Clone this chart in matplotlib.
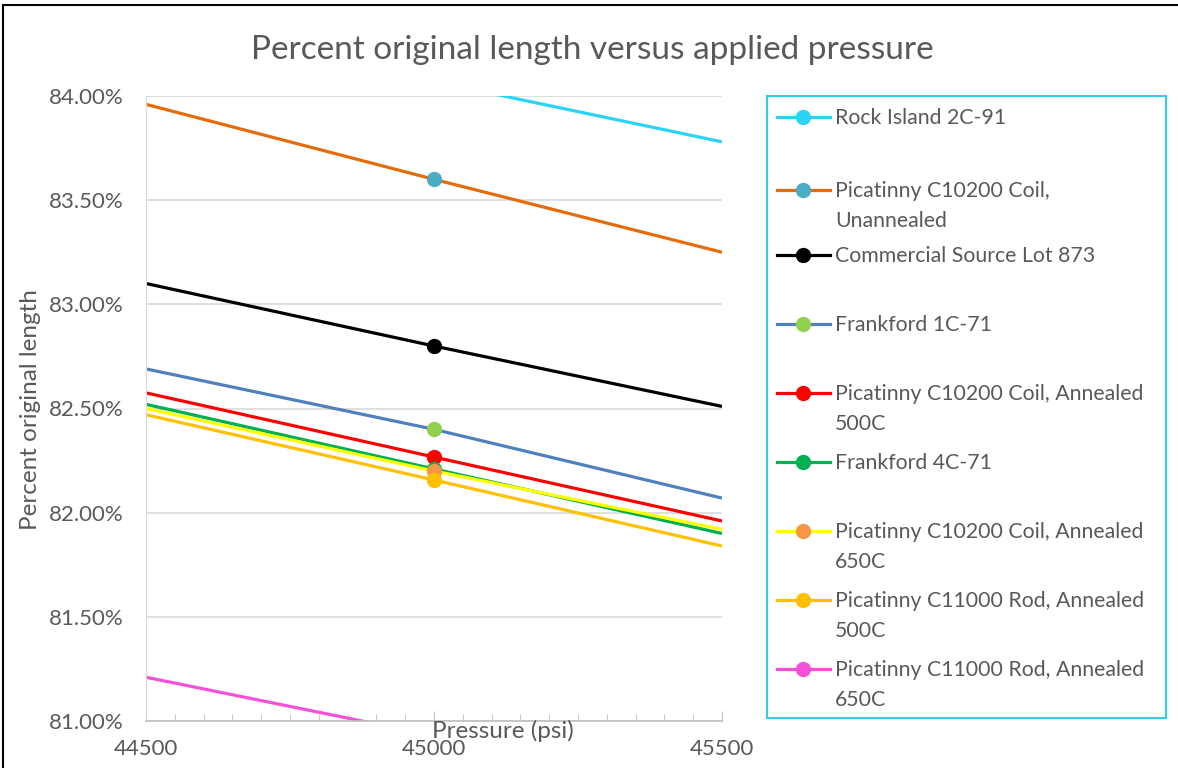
import matplotlib.pyplot as plt
from matplotlib.lines import Line2D
from matplotlib.patches import Rectangle
from matplotlib.ticker import MultipleLocator, FuncFormatter

plt.rcParams['font.family'] = ['Lato', 'DejaVu Sans']

## data (percent of original length)
pressure = [44500, 45000, 45500]

series_names = [
    'Rock Island 2C-91',
    'Picatinny C10200 Coil,\nUnannealed',
    'Commercial Source Lot 873',
    'Frankford 1C-71',
    'Picatinny C10200 Coil, Annealed\n500C',
    'Frankford 4C-71',
    'Picatinny C10200 Coil, Annealed\n650C',
    'Picatinny C11000 Rod, Annealed\n500C',
    'Picatinny C11000 Rod, Annealed\n650C',
]

rock_island = [84.36, 84.07, 83.78]
pic_unannealed = [83.96, 83.60, 83.25]
commercial_873 = [83.10, 82.80, 82.51]
frankford_1c = [82.69, 82.40, 82.07]
pic_coil_500 = [82.575, 82.267, 81.96]
frankford_4c = [82.52, 82.21, 81.90]
pic_coil_650 = [82.50, 82.20, 81.92]
pic_rod_500 = [82.47, 82.157, 81.84]
pic_rod_650 = [81.21, 80.93, 80.64]

values = [rock_island, pic_unannealed, commercial_873, frankford_1c, pic_coil_500,
          frankford_4c, pic_coil_650, pic_rod_500, pic_rod_650]

line_colors = ['#2BD3F4', '#E46C0A', '#000000', '#4F81BD', '#FF0000',
               '#00B050', '#FFFF00', '#FFC000', '#F650D8']
marker_colors = ['#2BD3F4', '#4BACC6', '#000000', '#92D050', '#FF0000',
                 '#00B050', '#F79646', '#FFC000', '#F650D8']

txt = '#595959'
W, H = 1178, 768

fig = plt.figure(figsize=(W / 100, H / 100), dpi=100)
ax = fig.add_axes([146 / W, 1 - 721 / H, (722 - 146) / W, (721 - 96) / H])

for vals, lc, mc in zip(values, line_colors, marker_colors):
    ax.plot(pressure, vals, color=lc, lw=2.3, marker='o', markevery=[1],
            markersize=10, markerfacecolor=mc, markeredgecolor=mc, solid_capstyle='butt')

ax.set_xlim(44500, 45500)
ax.set_ylim(81.0, 84.0)
ax.yaxis.set_major_locator(MultipleLocator(0.5))
ax.yaxis.set_major_formatter(FuncFormatter(lambda v, p: '%.2f%%' % v))
ax.xaxis.set_major_locator(MultipleLocator(500))
ax.xaxis.set_minor_locator(MultipleLocator(50))
ax.grid(axis='y', color='#D9D9D9', lw=1.2)
ax.set_axisbelow(True)

for s in ['top', 'right']:
    ax.spines[s].set_visible(False)
ax.spines['left'].set_color('#D9D9D9')
ax.spines['bottom'].set_color('#BFBFBF')
ax.spines['bottom'].set_linewidth(1.2)

ax.tick_params(axis='y', length=0, pad=16, labelsize=16, labelcolor=txt)
ax.tick_params(axis='x', which='major', direction='in', length=7, color='#BFBFBF',
               pad=13, labelsize=16, labelcolor=txt)
ax.tick_params(axis='x', which='minor', direction='in', length=5, color='#BFBFBF')

## titles / labels
fig.text(592 / W, 1 - 50 / H, 'Percent original length versus applied pressure',
         ha='center', va='center', fontsize=24, color=txt)
fig.text(503 / W, 1 - 731 / H, 'Pressure (psi)', ha='center', va='center',
         fontsize=17.5, color=txt)
fig.text(31 / W, 1 - 410 / H, 'Percent original length', ha='center', va='center',
         rotation=90, fontsize=17.5, color=txt)

## legend drawn by hand so every entry lines up with its first text line
fig.patches.append(Rectangle((767 / W, 1 - 718 / H), (1166 - 767) / W, (718 - 96) / H,
                             transform=fig.transFigure, fill=False,
                             edgecolor='#33CCEE', lw=1.5))
entry_y = [117, 190, 255, 324, 393, 462, 531, 600, 669]
for name, lc, mc, py in zip(series_names, line_colors, marker_colors, entry_y):
    fy = 1 - py / H
    fig.add_artist(Line2D([777 / W, 830 / W], [fy, fy], transform=fig.transFigure,
                          color=lc, lw=2.3))
    fig.add_artist(Line2D([803 / W], [fy], transform=fig.transFigure, marker='o',
                          markersize=10, color=mc, lw=0))
    fig.text(835 / W, 1 - (py - 9) / H, name, ha='left', va='top', fontsize=15.3,
             color=txt, linespacing=1.6)

## chart border (left and top edge visible)
fig.add_artist(Line2D([3 / W, 3 / W], [0, 1 - 5 / H], transform=fig.transFigure,
                      color='black', lw=1.5))
fig.add_artist(Line2D([3 / W, 1], [1 - 5 / H, 1 - 5 / H], transform=fig.transFigure,
                      color='black', lw=1.5))

fig.savefig('out.png', dpi=100)
